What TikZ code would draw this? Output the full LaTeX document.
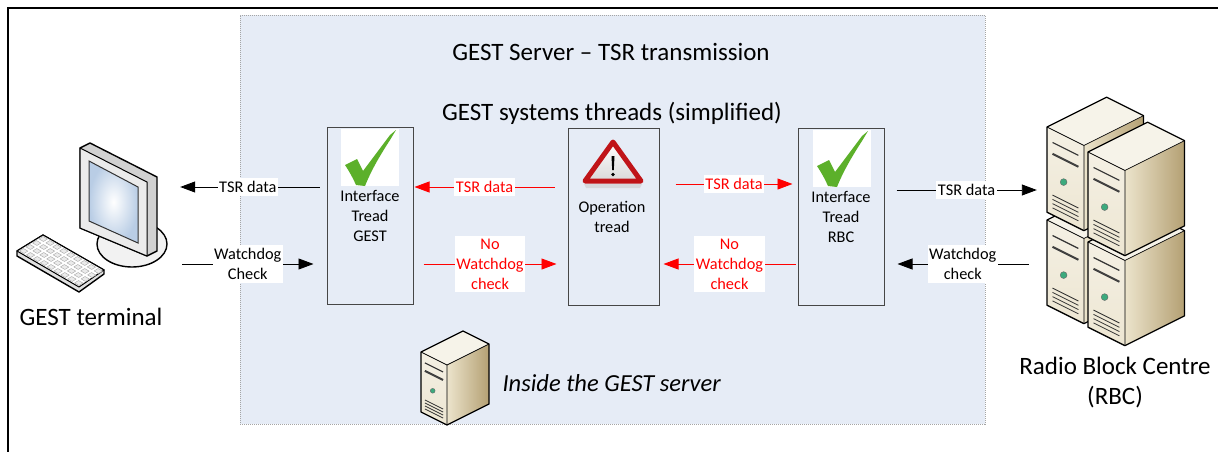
\documentclass[tikz,border=0pt]{standalone}
\usepackage{fontspec}
\setmainfont{Carlito}
\usetikzlibrary{arrows.meta,calc}

\definecolor{panelblue}{RGB}{230,236,246}
\definecolor{paneledge}{RGB}{165,165,165}
\definecolor{boxedge}{RGB}{70,70,70}
\definecolor{okgreen}{RGB}{92,176,42}
\definecolor{warnred}{RGB}{192,20,24}
\definecolor{ledgreen}{RGB}{60,170,125}
\definecolor{towerfront}{RGB}{237,230,210}
\definecolor{towertop}{RGB}{246,243,233}
\definecolor{towerside}{RGB}{180,160,115}
\definecolor{towersidelight}{RGB}{236,228,204}
\definecolor{screenblue}{RGB}{185,205,229}

\tikzset{
  bigtext/.style={font=\fontsize{25}{30}\selectfont, align=center},
  smalltext/.style={font=\fontsize{16.3}{20}\selectfont, align=center},
  threadbox/.style={draw=boxedge, line width=1pt, minimum width=86pt,
    minimum height=177pt, inner sep=0pt},
  flowblack/.style={draw=black, line width=0.9pt,
    -{Triangle[length=15pt,width=11pt]}},
  flowred/.style={draw=red, line width=0.9pt,
    -{Triangle[length=15pt,width=11pt]}},
  tag/.style={smalltext, fill=white, inner xsep=1.5pt, inner ysep=3pt},
  redtag/.style={tag, text=red},
  icon/.style={inner sep=0pt, draw=none},
  outline/.style={draw=black, line width=1.3pt, line join=round},
}

% green tick on a white square; origin = top-left corner of the square
\newcommand\oktick[2]{%
  \begin{scope}[shift={(#1,#2)}]
    \fill[white] (0,0) rectangle (58,57);
    \fill[okgreen] (4,36) -- (16,30) -- (22,42) -- (49,6) -- (55,1)
      -- (49,11) .. controls (38,28) and (30,42) .. (24,57)
      -- (15,56) .. controls (12,49) and (8,42) .. cycle;
  \end{scope}}

% isometric server tower; origin = upper-left corner of its front face
\newcommand\servertower[3]{%
  \begin{scope}[shift={(#1,#2)}, scale=#3]
    \shade[left color=towersidelight, right color=towerside]
      (26,13) -- (68,-8) -- (68,52) -- (26,73) -- cycle;
    \shade[top color=towerfront!60!white, bottom color=towerfront]
      (0,0) -- (26,13) -- (26,73) -- (0,60) -- cycle;
    \fill[towertop] (0,0) -- (42,-21) -- (68,-8) -- (26,13) -- cycle;
    % drive bay
    \draw[line width=1.2pt, black!80] (3.9,10.9) -- (22.1,20);
    \draw[line width=2pt, black!75] (3.9,18.9) -- (22.1,28);
    % power led
    \filldraw[fill=ledgreen, draw=black!60, line width=0.4pt] (11.7,38.8) circle (2.4pt);
    % vents
    \foreach \v in {46,49,52,55}
      \draw[line width=0.8pt, black!80] (3.9,{1.95+\v}) -- (22.1,{11.05+\v});
    \draw[line width=0.7pt] (0,0) -- (26,13) -- (68,-8) (26,13) -- (26,73);
    \draw[outline] (0,0) -- (42,-21) -- (68,-8) -- (68,52) -- (26,73) -- (0,60) -- cycle;
  \end{scope}}

\begin{document}
\begin{tikzpicture}[x=1pt, y=-1pt]
  \useasboundingbox (0,0) rectangle (1218,452);
  \fill[white] (0,0) rectangle (1218,452);
  \draw[line width=2pt] (8,452) -- (8,8) -- (1218,8);

  % server panel
  \node[icon, fill=panelblue, draw=paneledge, line width=0.8pt,
        dash pattern=on 1pt off 1pt, minimum width=745pt, minimum height=409pt]
        (server) at (612.5,219.5) {};
  \node[bigtext] (title) at (611,52) {GEST Server – TSR transmission};
  \node[bigtext] (subtitle) at (612,113) {GEST systems threads (simplified)};

  % thread boxes
  \node[threadbox] (gest) at (370,215.5) {};
  \node[threadbox, minimum width=91pt] (op) at (613.5,216.5) {};
  \node[threadbox] (rbcbox) at (841,216.5) {};

  \oktick{341}{129}
  \oktick{813}{130}
  \node[smalltext] (gesttxt) at (370,216) {Interface\\Tread\\GEST};
  \node[smalltext] (rbctxt) at (841,217) {Interface\\Tread\\RBC};

  % warning sign
  \fill[black!20, opacity=0.6] (584,184) -- (642,184) -- (640,188) -- (586,188) -- cycle;
  \shade[top color=white, bottom color=black!15] (613,142) -- (641,181) -- (585,181) -- cycle;
  \draw[warnred, line width=5pt, line join=round] (613,142) -- (641,181) -- (585,181) -- cycle;
  \fill[black] (611.5,156) -- (614.5,156) -- (613.8,170) -- (612.2,170) -- cycle;
  \fill[black] (613,174.5) circle (1.8pt);
  \node[smalltext] (optxt) at (612,217) {Operation\\tread};

  % GEST terminal
  \node[icon, minimum width=150pt, minimum height=150pt] (term) at (92,220) {};
  \filldraw[fill=black!5, draw=black, line width=1.4pt] (132,244) ellipse [x radius=35pt, y radius=23pt];
  \draw[line width=1.4pt, line join=round, fill=black!18]
    (80,148) -- (90,143) -- (157,177) -- (157,251) -- (147,256) -- (80,228) -- cycle;
  \draw[line width=1pt, line join=round, fill=black!8]
    (80,148) -- (147,182) -- (147,256) -- (80,228) -- cycle;
  \shade[inner color=white, outer color=screenblue]
    (89,161) -- (138,187) -- (138,243) -- (89,221) -- cycle;
  \draw[line width=1pt, black!80] (89,161) -- (138,187) -- (138,243) -- (89,221) -- cycle;
  % keyboard
  \draw[line width=1.4pt, line join=round, fill=black!12]
    (17,251) -- (43,235) -- (104,270) -- (104,274) -- (79,292) -- (17,256) -- cycle;
  \draw[line width=1pt, line join=round, fill=white]
    (17,251) -- (43,235) -- (104,270) -- (79,287) -- cycle;
  \foreach \i in {0,...,8}
    \foreach \j in {0,...,3}
      \filldraw[fill=black!8, draw=black!35, line width=0.4pt]
        ($(17,251)+{(\i+0.18)/9}*(62,36)+{(\j+0.2)/4}*(26,-16)$)
        -- ++({0.64/9*62},{0.64/9*36}) -- ++({0.6/4*26},{-0.6/4*16})
        -- ++({-0.64/9*62},{-0.64/9*36}) -- cycle;
  \node[bigtext] (termlbl) at (91,317) {GEST terminal};

  % Radio Block Centre
  \node[icon, minimum width=140pt, minimum height=250pt] (rbc) at (1115,221) {};
  \servertower{1047}{220}{1.42}
  \servertower{1047}{127}{1.42}
  \servertower{1088}{242}{1.42}
  \servertower{1088}{152}{1.42}
  \node[bigtext] (rbclbl) at (1115,383) {Radio Block Centre\\(RBC)};

  % server inside the panel
  \servertower{421}{352}{1}
  \node[font=\fontsize{24.5}{29}\selectfont\itshape, anchor=west] (insidelbl)
    at (499,383) {Inside the GEST server};

  % signal levels
  \coordinate (lvtsr) at (0,187);
  \coordinate (lvtsrr) at (0,184);
  \coordinate (lvtsro) at (0,190);
  \coordinate (lvwd) at (0,264);

  % connectors
  \draw[flowblack, shorten <=7pt, shorten >=13pt] (gest.west |- lvtsr) -- (term.east |- lvtsr)
    node[tag, pos=0.494] {TSR data};
  \draw[flowblack, shorten <=15pt, shorten >=13pt] (term.east |- lvwd) -- (gest.west |- lvwd)
    node[tag, pos=0.506] {Watchdog\\Check};
  \draw[flowred, shorten <=13pt, shorten >=1pt] (op.west |- lvtsr) -- (gest.east |- lvtsr)
    node[redtag, pos=0.539] {TSR data};
  \draw[flowred, shorten <=10pt, shorten >=11pt] (gest.east |- lvwd) -- (op.west |- lvwd)
    node[redtag, pos=0.497] {No\\Watchdog\\check};
  \draw[flowred, shorten <=16pt, shorten >=5pt] (op.east |- lvtsrr) -- (rbcbox.west |- lvtsrr)
    node[redtag, pos=0.54] {TSR data};
  \draw[flowred, shorten <=2pt, shorten >=4pt] (rbcbox.west |- lvwd) -- (op.east |- lvwd)
    node[redtag, pos=0.493] {No\\Watchdog\\check};
  \draw[flowblack, shorten <=12pt, shorten >=8pt] (rbcbox.east |- lvtsro) -- (rbc.west |- lvtsro)
    node[tag, pos=0.512] {TSR data};
  \draw[flowblack, shorten <=16pt, shorten >=13pt] (rbc.west |- lvwd) -- (rbcbox.east |- lvwd)
    node[tag, pos=0.512] {Watchdog\\check};
\end{tikzpicture}
\end{document}
